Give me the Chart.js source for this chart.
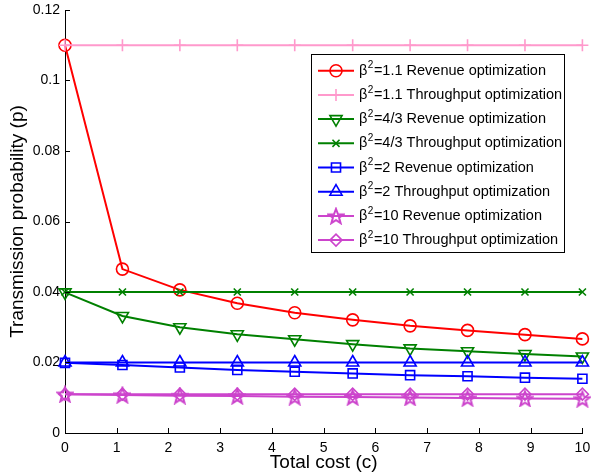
<!DOCTYPE html>
<html>
<head>
<meta charset="utf-8">
<script src="https://cdn.jsdelivr.net/npm/chart.js@4/dist/chart.umd.min.js"></script>
<style>
  body { margin: 0; background: #fff; }
  #wrap { width: 592px; height: 476px; }
</style>
</head>
<body>
<div id="wrap"><canvas id="chart" width="592" height="476"></canvas></div>
<script>
"use strict";

// Total cost (c) on the x axis
const costs = [0, 1.11, 2.22, 3.33, 4.44, 5.56, 6.67, 7.78, 8.89, 10];

// Transmission probability for each beta^2 and optimization target
const rev11 = [0.11, 0.0465, 0.0406, 0.0368, 0.0341, 0.0321, 0.0304, 0.0291, 0.0279, 0.0267];
const thr11 = [0.11, 0.11, 0.11, 0.11, 0.11, 0.11, 0.11, 0.11, 0.11, 0.11];
const rev43 = [0.0399, 0.0332, 0.0300, 0.0280, 0.0266, 0.0252, 0.0240, 0.0232, 0.0224, 0.0217];
const thr43 = [0.04, 0.04, 0.04, 0.04, 0.04, 0.04, 0.04, 0.04, 0.04, 0.04];
const rev2 = [0.0199, 0.0193, 0.0186, 0.0179, 0.0174, 0.0169, 0.0164, 0.0161, 0.0157, 0.0154];
const thr2 = [0.02, 0.02, 0.02, 0.02, 0.02, 0.02, 0.02, 0.02, 0.02, 0.02];
const rev10 = [0.011, 0.0108, 0.0106, 0.0105, 0.0103, 0.0102, 0.0101, 0.0099, 0.0098, 0.0097];
const thr10 = [0.011, 0.011, 0.011, 0.011, 0.011, 0.011, 0.011, 0.011, 0.011, 0.011];

const betaLabels = ["1.1", "1.1", "4/3", "4/3", "2", "2", "10", "10"];
const targetLabels = [
  "Revenue optimization", "Throughput optimization",
  "Revenue optimization", "Throughput optimization",
  "Revenue optimization", "Throughput optimization",
  "Revenue optimization", "Throughput optimization",
];

const FONT = "'Liberation Sans', Arial, Helvetica, sans-serif";
const RED = "#ff0000";
const PINK = "#ff99cc";
const GREEN = "#008000";
const BLUE = "#0000ff";
const MAGENTA = "#cc44cc";

// MATLAB style five point star, Chart.js only has the asterisk one
function makePentagram(color, size) {
  const c = document.createElement("canvas");
  c.width = size;
  c.height = size;
  const g = c.getContext("2d");
  const cx = size / 2, cy = size / 2 + 0.8;
  const outer = size / 2 - 1.2, inner = outer * 0.42;
  g.beginPath();
  for (let i = 0; i < 10; i++) {
    const r = i % 2 === 0 ? outer : inner;
    const a = -Math.PI / 2 + (i * Math.PI) / 5;
    const px = cx + r * Math.cos(a), py = cy + r * Math.sin(a);
    if (i === 0) g.moveTo(px, py); else g.lineTo(px, py);
  }
  g.closePath();
  g.strokeStyle = color;
  g.lineWidth = 2;
  g.lineJoin = "miter";
  g.stroke();
  return c;
}
const pentagram = makePentagram(MAGENTA, 18);

function series(values, color, pointStyle, radius, rotation) {
  return {
    data: costs.map((c, i) => ({ x: c, y: values[i] })),
    borderColor: color,
    borderWidth: 2,
    pointStyle,
    pointRadius: radius,
    pointRotation: rotation || 0,
    pointBorderColor: color,
    pointBackgroundColor: "rgba(0,0,0,0)",
    pointBorderWidth: 1.6,
    tension: 0,
    fill: false,
    clip: false,
  };
}

const datasets = [
  series(rev11, RED, "circle", 6),
  series(thr11, PINK, "cross", 6),
  series(rev43, GREEN, "triangle", 7, 180),
  series(thr43, GREEN, "crossRot", 5),
  series(rev2, BLUE, "rect", 6.4),
  series(thr2, BLUE, "triangle", 7),
  series(rev10, MAGENTA, pentagram, 8),
  series(thr10, MAGENTA, "rectRot", 6),
];
// later series drawn on top, like MATLAB
datasets.forEach((d, i) => (d.order = -i));

const insideTicks = {
  id: "insideTicks",
  afterDraw(chart) {
    const { ctx, chartArea: { left, bottom }, scales: { x, y } } = chart;
    ctx.save();
    ctx.strokeStyle = "#000";
    ctx.lineWidth = 1;
    ctx.beginPath();
    for (const t of x.ticks) {
      const px = Math.round(x.getPixelForValue(t.value)) + 0.5;
      ctx.moveTo(px, bottom);
      ctx.lineTo(px, bottom - 5);
    }
    for (const t of y.ticks) {
      const py = Math.round(y.getPixelForValue(t.value)) + 0.5;
      ctx.moveTo(left, py);
      ctx.lineTo(left + 5, py);
    }
    ctx.stroke();
    ctx.restore();
  },
};

const boxLegend = {
  id: "boxLegend",
  afterDraw(chart) {
    const { ctx } = chart;
    const box = { left: 311.5, top: 54.5, width: 253, height: 198 };
    const rowTop = 70.7, rowStep = 24.2;
    ctx.save();
    ctx.fillStyle = "#fff";
    ctx.strokeStyle = "#000";
    ctx.lineWidth = 1;
    ctx.fillRect(box.left, box.top, box.width, box.height);
    ctx.strokeRect(box.left, box.top, box.width, box.height);

    chart.data.datasets.forEach((ds, i) => {
      const y = rowTop + i * rowStep;
      ctx.strokeStyle = ds.borderColor;
      ctx.lineWidth = ds.borderWidth;
      ctx.beginPath();
      ctx.moveTo(318, y);
      ctx.lineTo(354, y);
      ctx.stroke();
      ctx.lineWidth = ds.pointBorderWidth;
      ctx.fillStyle = ds.pointBackgroundColor;
      Chart.helpers.drawPoint(ctx, {
        pointStyle: ds.pointStyle,
        radius: ds.pointRadius,
        rotation: ds.pointRotation,
        borderWidth: ds.pointBorderWidth,
      }, 336, y);

      ctx.fillStyle = "#000";
      ctx.textBaseline = "middle";
      ctx.textAlign = "left";
      let tx = 359;
      ctx.font = "14.5px " + FONT;
      ctx.fillText("\u03b2", tx, y);
      tx += ctx.measureText("\u03b2").width + 0.5;
      ctx.font = "10px " + FONT;
      ctx.fillText("2", tx, y - 5);
      tx += ctx.measureText("2").width + 0.5;
      ctx.font = "14.5px " + FONT;
      ctx.fillText("=" + betaLabels[i] + " " + targetLabels[i], tx, y);
    });
    ctx.restore();
  },
};

const tickFont = { family: FONT, size: 14 };
const titleFont = { family: FONT, size: 19 };

new Chart(document.getElementById("chart").getContext("2d"), {
  type: "line",
  data: { datasets },
  plugins: [insideTicks, boxLegend],
  options: {
    responsive: false,
    animation: false,
    events: [],
    layout: { padding: { left: 0, right: 7, top: 10, bottom: 0 } },
    plugins: { legend: { display: false }, tooltip: { enabled: false } },
    scales: {
      x: {
        type: "linear",
        min: 0,
        max: 10,
        ticks: { stepSize: 1, padding: 7, color: "#000", font: tickFont, maxRotation: 0 },
        grid: { display: false, drawTicks: false },
        border: { display: true, color: "#000", width: 1 },
        title: { display: true, text: "Total cost (c)", color: "#000", font: titleFont, padding: { top: 0, bottom: 2 } },
        afterFit: (s) => {
          s.height = 43;
          s.paddingLeft = 0;
          s.paddingRight = 0;
        },
      },
      y: {
        type: "linear",
        min: 0,
        max: 0.12,
        ticks: {
          stepSize: 0.02,
          padding: 5,
          color: "#000",
          font: tickFont,
          callback: (v) => String(+v.toFixed(2)),
        },
        grid: { display: false, drawTicks: false },
        border: { display: true, color: "#000", width: 1 },
        title: { display: true, text: "Transmission probability (p)", color: "#000", font: titleFont, padding: { top: 6, bottom: 0 } },
        afterFit: (s) => {
          s.width = 65;
          s.paddingTop = 0;
          s.paddingBottom = 0;
        },
      },
    },
  },
});
</script>
</body>
</html>
